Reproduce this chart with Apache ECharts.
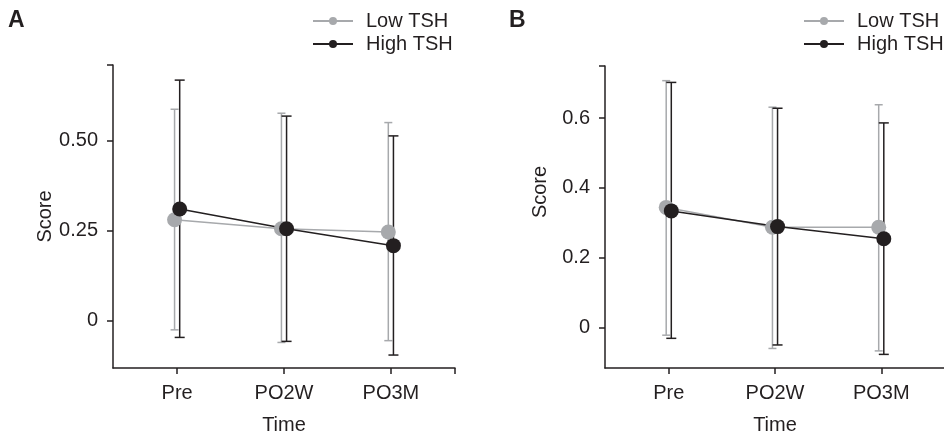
<!DOCTYPE html>
<html>
<head>
<meta charset="utf-8">
<script src="https://cdn.jsdelivr.net/npm/echarts@6/dist/echarts.min.js"></script>
<style>
html,body{margin:0;padding:0;background:#fff;}
#chart{width:944px;height:437px;}
</style>
</head>
<body>
<div id="chart"></div>
<script>
// ---- data ----
var categories = ['Pre', 'PO2W', 'PO3M'];
var seriesNames = ['Low TSH', 'High TSH'];

// Panel A
var lowMeanA  = [0.281, 0.256, 0.247];
var lowUpperA = [0.588, 0.577, 0.551];
var lowLowerA = [-0.025, -0.060, -0.055];
var highMeanA  = [0.311, 0.256, 0.209];
var highUpperA = [0.669, 0.569, 0.514];
var highLowerA = [-0.046, -0.057, -0.095];

// Panel B
var lowMeanB  = [0.344, 0.287, 0.287];
var lowUpperB = [0.707, 0.631, 0.638];
var lowLowerB = [-0.022, -0.060, -0.067];
var highMeanB  = [0.334, 0.289, 0.254];
var highUpperB = [0.702, 0.628, 0.586];
var highLowerB = [-0.031, -0.050, -0.077];

// tick labels
var yTicksA = [0, 0.25, 0.5];
var yTickLabelsA = ['0', '0.25', '0.50'];
var yTicksB = [0, 0.2, 0.4, 0.6];
var yTickLabelsB = ['0', '0.2', '0.4', '0.6'];
var xTicks = [1, 2, 3];

// ---- styling ----
var GRAY = '#a7a9ac';
var BLACK = '#231f20';
var FONT = 'Liberation Sans, Arial, Helvetica, sans-serif';
var DODGE = 0.024;

function pts(means, offset) {
  return means.map(function (m, i) { return [xTicks[i] + offset, m]; });
}
function bars(lows, highs, offset) {
  return lows.map(function (l, i) { return [xTicks[i] + offset, l, highs[i]]; });
}
function errRender(color, halfCap) {
  return function (params, api) {
    var x = api.value(0), lo = api.value(1), hi = api.value(2);
    var pLo = api.coord([x, lo]);
    var pHi = api.coord([x, hi]);
    var st = { stroke: color, lineWidth: 1.5 };
    return {
      type: 'group',
      children: [
        { type: 'line', shape: { x1: pLo[0], y1: pLo[1], x2: pHi[0], y2: pHi[1] }, style: st },
        { type: 'line', shape: { x1: pHi[0] - halfCap, y1: pHi[1], x2: pHi[0] + halfCap, y2: pHi[1] }, style: st },
        { type: 'line', shape: { x1: pLo[0] - halfCap, y1: pLo[1], x2: pLo[0] + halfCap, y2: pLo[1] }, style: st }
      ]
    };
  };
}
function labelFromList(ticks, labels) {
  return function (v) {
    for (var i = 0; i < ticks.length; i++) {
      if (Math.abs(ticks[i] - v) < 1e-6) return labels[i];
    }
    return '';
  };
}

function xAxisCfg(gridIndex) {
  return {
    type: 'value', gridIndex: gridIndex, min: 0.4, max: 3.6,
    name: 'Time', nameLocation: 'middle', nameGap: 47,
    nameTextStyle: { fontSize: 20, color: BLACK, fontFamily: FONT },
    axisLine: { onZero: false, lineStyle: { color: BLACK, width: 1.5 } },
    axisTick: { show: true, length: 6, customValues: xTicks.concat([3.6]), lineStyle: { color: BLACK, width: 1.5 } },
    axisLabel: { customValues: xTicks, margin: 15, fontSize: 20, color: BLACK, fontFamily: FONT,
      formatter: labelFromList(xTicks, categories) },
    splitLine: { show: false }
  };
}
function yAxisCfg(gridIndex, min, max, ticks, labels, gap, pad) {
  return {
    type: 'value', gridIndex: gridIndex, min: min, max: max,
    name: 'Score', nameLocation: 'middle', nameGap: gap,
    nameTextStyle: { fontSize: 20, color: BLACK, fontFamily: FONT, padding: pad },
    axisLine: { show: true, onZero: false, lineStyle: { color: BLACK, width: 1.5 } },
    axisTick: { show: true, length: 6, customValues: ticks.concat([max]), lineStyle: { color: BLACK, width: 1.5 } },
    axisLabel: { customValues: ticks, margin: 15, fontSize: 20, color: BLACK, fontFamily: FONT,
      formatter: labelFromList(ticks, labels) },
    splitLine: { show: false }
  };
}

function panelSeries(idx, lowMean, lowLower, lowUpper, highMean, highLower, highUpper) {
  return [
    { type: 'custom', name: 'errLow' + idx, xAxisIndex: idx, yAxisIndex: idx,
      renderItem: errRender(GRAY, 4), data: bars(lowLower, lowUpper, -DODGE),
      encode: { x: 0, y: [1, 2] }, silent: true },
    { type: 'line', name: seriesNames[0], xAxisIndex: idx, yAxisIndex: idx,
      data: pts(lowMean, -DODGE), symbol: 'circle', symbolSize: 15,
      itemStyle: { color: GRAY }, lineStyle: { color: GRAY, width: 1.5 } },
    { type: 'custom', name: 'errHigh' + idx, xAxisIndex: idx, yAxisIndex: idx,
      renderItem: errRender(BLACK, 5), data: bars(highLower, highUpper, DODGE),
      encode: { x: 0, y: [1, 2] }, silent: true },
    { type: 'line', name: seriesNames[1], xAxisIndex: idx, yAxisIndex: idx,
      data: pts(highMean, DODGE), symbol: 'circle', symbolSize: 15,
      itemStyle: { color: BLACK }, lineStyle: { color: BLACK, width: 1.5 } }
  ];
}

var legendBase = {
  orient: 'vertical', padding: 0, itemWidth: 40, itemHeight: 10, itemGap: 3,
  textStyle: { fontSize: 20, color: BLACK, fontFamily: FONT, padding: [0, 0, 0, 8] },
  data: seriesNames, selectedMode: false
};

var option = {
  animation: false,
  backgroundColor: '#fff',
  title: [
    { text: 'A', left: 3, top: 4, textStyle: { fontSize: 23, fontWeight: 'bold', color: BLACK, fontFamily: FONT } },
    { text: 'B', left: 504, top: 4, textStyle: { fontSize: 23, fontWeight: 'bold', color: BLACK, fontFamily: FONT } }
  ],
  legend: [
    Object.assign({}, legendBase, { left: 312, top: 11 }),
    Object.assign({}, legendBase, { left: 803, top: 11 })
  ],
  grid: [
    { left: 113, top: 65, width: 342, height: 303, containLabel: false, outerBoundsMode: 'none' },
    { left: 605, top: 66, width: 340, height: 302, containLabel: false, outerBoundsMode: 'none' }
  ],
  xAxis: [xAxisCfg(0), xAxisCfg(1)],
  yAxis: [
    yAxisCfg(0, -0.131, 0.711, yTicksA, yTickLabelsA, 58, [0, 0, 0, 0]),
    yAxisCfg(1, -0.116, 0.749, yTicksB, yTickLabelsB, 55, [0, 0, 0, 50])
  ],
  series: []
    .concat(panelSeries(0, lowMeanA, lowLowerA, lowUpperA, highMeanA, highLowerA, highUpperA))
    .concat(panelSeries(1, lowMeanB, lowLowerB, lowUpperB, highMeanB, highLowerB, highUpperB))
};

var chart = echarts.init(document.getElementById('chart'), null, { renderer: 'canvas' });
chart.setOption(option);
</script>
</body>
</html>
